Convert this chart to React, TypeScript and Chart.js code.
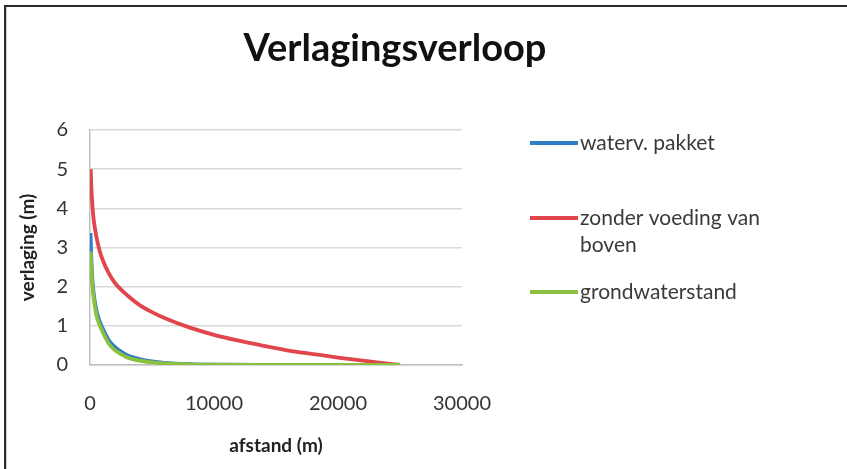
import React, { useEffect, useRef } from "react";
import { Chart, registerables } from "chart.js";

Chart.register(...registerables);

const TITLE = "Verlagingsverloop";
const X_TITLE = "afstand (m)";
const Y_TITLE = "verlaging (m)";
const SERIES_NAMES = ["waterv. pakket", "zonder voeding van boven", "grondwaterstand"];
const LEGEND_LINES = [["waterv. pakket"], ["zonder voeding van", "boven"], ["grondwaterstand"]];
const X_TICKS = [0, 10000, 20000, 30000];
const Y_TICKS = [0, 1, 2, 3, 4, 5, 6];

const blueX = [40, 100, 200, 300, 500, 750, 1000, 1500, 2000, 2500, 3000, 4000, 5000, 6000, 8000, 10000, 15000, 20000, 25000];
const blueY = [3.37, 2.75, 2.15, 1.82, 1.42, 1.14, 0.95, 0.64, 0.46, 0.34, 0.25, 0.15, 0.09, 0.055, 0.022, 0.009, 0.002, 0.0, 0.0];

const redX = [60, 100, 200, 300, 500, 750, 1000, 1500, 2000, 3000, 4000, 5000, 6000, 8000, 10000, 12000, 14000, 16000, 18000, 20000, 22000, 25000];
const redY = [5.0, 4.6, 4.05, 3.7, 3.3, 2.95, 2.7, 2.35, 2.1, 1.78, 1.53, 1.35, 1.2, 0.96, 0.77, 0.62, 0.49, 0.37, 0.28, 0.19, 0.11, 0.0];

const greenX = [40, 100, 200, 300, 500, 750, 1000, 1500, 2000, 2500, 3000, 4000, 5000, 6000, 8000, 10000, 15000, 20000, 25000];
const greenY = [2.9, 2.55, 2.0, 1.7, 1.3, 1.04, 0.86, 0.55, 0.38, 0.28, 0.19, 0.11, 0.065, 0.04, 0.015, 0.006, 0.001, 0.0, 0.0];

const COLORS = ["#2f7fc6", "#e0464b", "#8cc03f"];

const FONT = "Lato, 'Open Sans', sans-serif";

function pts(xs: number[], ys: number[]) {
  return xs.map((x, i) => ({ x, y: ys[i] }));
}

const framePlugin = {
  id: "frame",
  beforeDraw(chart: any) {
    const ctx = chart.ctx;
    ctx.save();
    ctx.fillStyle = "#ffffff";
    ctx.fillRect(0, 0, chart.width, chart.height);
    ctx.fillStyle = "#2b2b2b";
    ctx.fillRect(4, 5, chart.width - 4, 2);
    ctx.fillRect(4, 5, 2, chart.height - 5);
    ctx.fillStyle = "#c8c8c8";
    ctx.fillRect(6, 7, 1, chart.height - 7);
    ctx.restore();
  },
  afterDraw(chart: any) {
    const ctx = chart.ctx;
    ctx.save();
    // title
    ctx.fillStyle = "#111111";
    ctx.font = `bold 38px ${FONT}`;
    ctx.textAlign = "center";
    ctx.textBaseline = "alphabetic";
    ctx.fillText(TITLE, 395, 61);
    // legend
    const ys = [143, 218, 292];
    ctx.font = `21px ${FONT}`;
    ctx.textAlign = "left";
    ctx.textBaseline = "middle";
    LEGEND_LINES.forEach((lines, i) => {
      ctx.strokeStyle = COLORS[i];
      ctx.lineWidth = 4;
      ctx.beginPath();
      ctx.moveTo(530, ys[i]);
      ctx.lineTo(578, ys[i]);
      ctx.stroke();
      ctx.fillStyle = "#3a3a3a";
      lines.forEach((t, j) => ctx.fillText(t, 580, ys[i] + j * 27));
    });
    ctx.restore();
  },
};

export default function App() {
  const ref = useRef<HTMLCanvasElement | null>(null);
  useEffect(() => {
    if (!ref.current) return;
    const mk = (i: number, xs: number[], ys: number[]) => ({
      label: SERIES_NAMES[i],
      data: pts(xs, ys),
      borderColor: COLORS[i],
      backgroundColor: COLORS[i],
      borderWidth: 3.8,
      pointRadius: 0,
      cubicInterpolationMode: "monotone" as const,
      fill: false,
    });
    const chart = new Chart(ref.current, {
      type: "line",
      data: {
        datasets: [mk(2, greenX, greenY), mk(1, redX, redY), mk(0, blueX, blueY)],
      },
      options: {
        animation: false,
        responsive: false,
        devicePixelRatio: 1,
        layout: { padding: { left: 0, right: 385, top: 130, bottom: 0 } },
        plugins: {
          legend: { display: false },
          title: { display: false },
          tooltip: { enabled: false },
        },
        scales: {
          x: {
            type: "linear",
            min: 0,
            max: 30000,
            afterFit: (s: any) => { s.height = 104; },
            afterBuildTicks: (s: any) => { s.ticks = X_TICKS.map((v) => ({ value: v })); },
            grid: { display: false, drawTicks: false },
            border: { display: true, color: "#bfbfbf", width: 1.5 },
            ticks: {
              padding: 27,
              color: "#333333",
              font: { family: FONT, size: 20 },
              callback: (v: any) => String(v),
            },
            title: {
              display: true,
              text: X_TITLE,
              color: "#222222",
              font: { family: FONT, size: 19, weight: "bold" },
              padding: { top: 0, bottom: 12 },
            },
          },
          y: {
            type: "linear",
            min: 0,
            max: 6,
            afterFit: (s: any) => { s.width = 90; },
            afterBuildTicks: (s: any) => { s.ticks = Y_TICKS.map((v) => ({ value: v })); },
            grid: { color: "#d9d9d9", lineWidth: 1.5, drawTicks: false },
            border: { display: true, color: "#bfbfbf", width: 1.5 },
            ticks: {
              padding: 22,
              color: "#333333",
              font: { family: FONT, size: 20 },
              callback: (v: any) => String(v),
            },
            title: {
              display: true,
              text: Y_TITLE,
              color: "#222222",
              font: { family: FONT, size: 19, weight: "bold" },
              padding: { top: 16, bottom: 0 },
            },
          },
        },
      },
      plugins: [framePlugin],
    });
    return () => chart.destroy();
  }, []);
  return (
    <div style={{ position: "absolute", left: 0, top: 0, width: 847, height: 469, background: "#fff" }}>
      <canvas ref={ref} width={847} height={469} style={{ display: "block" }} />
    </div>
  );
}
